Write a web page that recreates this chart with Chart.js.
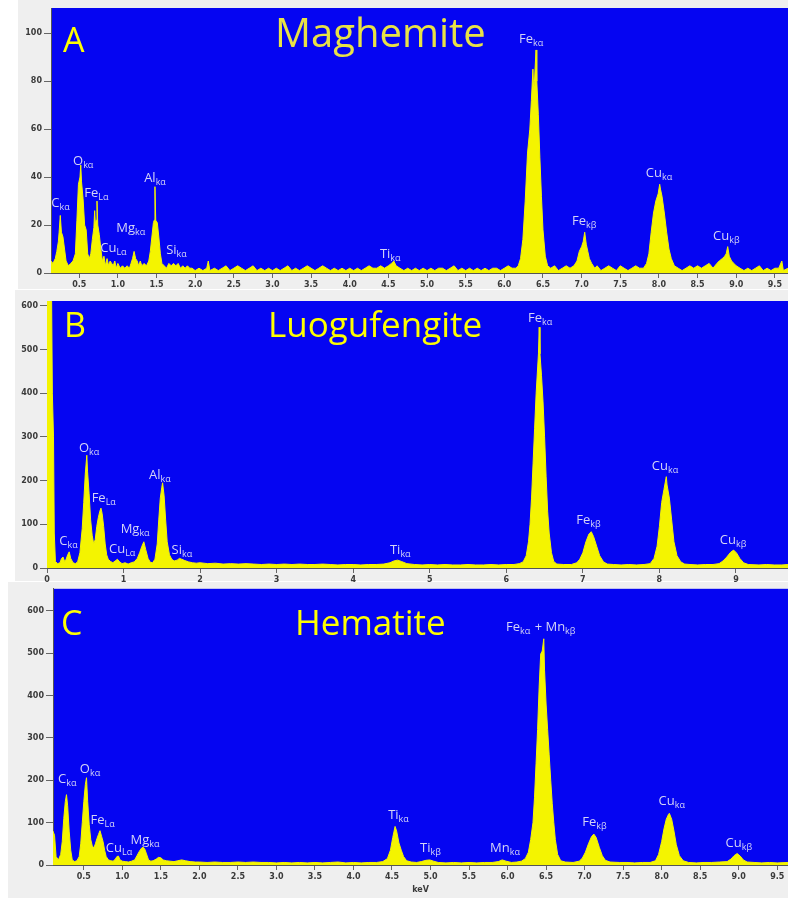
<!DOCTYPE html>
<html>
<head>
<meta charset="utf-8">
<script src="https://cdn.jsdelivr.net/npm/chart.js@4.4.1/dist/chart.umd.min.js"></script>
<style>
  body { margin: 0; background: #fff; width: 788px; height: 898px; overflow: hidden; position: relative; }
  canvas { position: absolute; left: 0; }
</style>
</head>
<body>
<canvas id="panelA" width="788" height="290" style="top:0px"></canvas>
<canvas id="panelB" width="788" height="292" style="top:290px"></canvas>
<canvas id="panelC" width="788" height="316" style="top:582px"></canvas>
<script>
// EDS spectra: [energy keV, counts]
const spectrumA = [
  [0.135,5],[0.16,4],[0.19,6],[0.21,9],[0.23,13],[0.24,17],[0.255,24],[0.27,17],[0.29,15],[0.31,10],
  [0.33,5],[0.36,3],[0.39,4],[0.42,5],[0.45,8],[0.47,22],[0.49,37],[0.51,40],[0.52,45],[0.53,38],
  [0.55,31],[0.57,20],[0.59,18],[0.61,8],[0.63,6],[0.65,8],[0.67,14],[0.69,19],[0.70,26],[0.71,20],
  [0.72,22],[0.73,30],[0.74,20],[0.76,16],[0.78,10],[0.80,5],[0.82,7],[0.84,3],[0.86,6],[0.88,3],
  [0.90,5],[0.92,4],[0.94,3],[0.96,5],[0.98,2],[1.00,4],[1.03,2],[1.06,3],[1.09,2],[1.12,3],
  [1.15,2],[1.17,4],[1.19,6],[1.21,9],[1.23,6],[1.25,5],[1.27,3],[1.29,5],[1.31,3],[1.34,4],
  [1.37,3],[1.40,5],[1.42,9],[1.44,15],[1.46,21],[1.47,22],[1.48,36],[1.49,22],[1.51,21],[1.53,15],
  [1.55,8],[1.57,4],[1.60,3],[1.63,2],[1.66,4],[1.69,3],[1.72,4],[1.75,3],[1.78,4],[1.81,2],
  [1.84,3],[1.87,2],[1.90,3],[1.93,2],[1.96,2],[2.00,1],[2.05,2],[2.10,1],[2.15,2],[2.17,5],
  [2.19,1],[2.25,2],[2.30,1],[2.35,2],[2.40,3],[2.45,1],[2.50,2],[2.55,3],[2.60,2],[2.65,1],
  [2.70,2],[2.75,3],[2.80,1],[2.85,2],[2.90,1],[2.95,2],[3.00,1],[3.05,2],[3.10,1],[3.15,2],
  [3.20,3],[3.25,1],[3.30,2],[3.35,1],[3.40,2],[3.45,3],[3.50,2],[3.55,1],[3.60,2],[3.65,3],
  [3.70,2],[3.75,1],[3.80,2],[3.85,1],[3.90,2],[3.95,1],[4.00,2],[4.05,1],[4.10,2],[4.15,1],
  [4.20,2],[4.25,3],[4.30,2],[4.35,2],[4.40,3],[4.45,2],[4.50,3],[4.54,4],[4.57,5],[4.60,3],
  [4.65,2],[4.70,1],[4.75,2],[4.80,1],[4.85,2],[4.90,1],[4.95,2],[5.00,1],[5.05,2],[5.10,1],
  [5.15,2],[5.20,2],[5.25,1],[5.30,2],[5.35,3],[5.40,1],[5.45,2],[5.50,1],[5.55,2],[5.60,1],
  [5.65,2],[5.70,1],[5.75,2],[5.80,1],[5.85,2],[5.90,2],[5.95,1],[6.00,2],[6.05,3],[6.10,2],
  [6.15,2],[6.18,3],[6.21,6],[6.24,14],[6.27,30],[6.30,50],[6.33,60],[6.35,72],[6.37,85],[6.38,76],
  [6.39,80],[6.41,93],[6.42,80],[6.44,66],[6.46,48],[6.48,32],[6.50,18],[6.53,7],[6.56,3],[6.60,2],
  [6.65,3],[6.70,1],[6.75,2],[6.80,3],[6.85,2],[6.90,3],[6.94,5],[6.97,9],[7.00,11],[7.02,13],
  [7.04,17],[7.06,12],[7.08,9],[7.10,6],[7.13,4],[7.17,2],[7.20,3],[7.25,1],[7.30,2],[7.35,3],
  [7.40,2],[7.45,1],[7.50,3],[7.55,2],[7.60,1],[7.65,2],[7.70,3],[7.75,2],[7.80,2],[7.84,4],
  [7.87,8],[7.90,17],[7.93,25],[7.96,30],[7.99,33],[8.01,37],[8.02,35],[8.04,32],[8.07,25],[8.10,17],
  [8.13,10],[8.16,6],[8.20,3],[8.25,2],[8.30,1],[8.35,2],[8.40,3],[8.45,2],[8.50,3],[8.55,2],
  [8.60,3],[8.65,4],[8.70,2],[8.75,4],[8.78,5],[8.82,6],[8.85,7],[8.87,8],[8.89,11],[8.91,7],
  [8.94,5],[8.97,4],[9.00,3],[9.05,2],[9.10,1],[9.15,2],[9.20,1],[9.25,2],[9.30,3],[9.35,1],
  [9.40,2],[9.45,1],[9.50,2],[9.55,2],[9.59,5],[9.61,1],[9.67,2]
];

const spectrumB = [
  [0,620],[0.06,620],[0.07,400],[0.085,300],[0.095,80],[0.11,15],[0.14,10],[0.17,12],[0.19,22],[0.21,25],
  [0.23,15],[0.25,20],[0.27,30],[0.29,37],[0.31,22],[0.34,12],[0.37,10],[0.40,14],[0.43,35],[0.46,90],
  [0.48,150],[0.50,215],[0.52,258],[0.53,220],[0.55,170],[0.57,110],[0.59,75],[0.61,55],[0.63,65],[0.65,95],
  [0.67,115],[0.69,130],[0.705,137],[0.72,125],[0.74,95],[0.76,55],[0.78,30],[0.80,20],[0.83,15],[0.86,12],
  [0.89,16],[0.92,20],[0.95,14],[0.98,10],[1.02,12],[1.06,9],[1.10,12],[1.14,14],[1.18,22],[1.21,35],
  [1.24,50],[1.265,60],[1.29,42],[1.32,22],[1.35,13],[1.38,12],[1.41,20],[1.44,55],[1.46,110],[1.48,160],
  [1.50,185],[1.51,195],[1.53,165],[1.55,110],[1.57,60],[1.60,30],[1.63,20],[1.66,16],[1.70,18],[1.73,22],
  [1.76,20],[1.80,17],[1.85,14],[1.90,12],[1.95,11],[2.00,12],[2.1,10],[2.2,11],[2.3,9],[2.4,10],
  [2.5,9],[2.6,10],[2.7,9],[2.8,8],[2.9,9],[3.0,8],[3.1,9],[3.2,8],[3.3,9],[3.4,8],
  [3.5,8],[3.6,9],[3.7,8],[3.8,7],[3.9,8],[4.0,8],[4.1,7],[4.2,8],[4.3,8],[4.4,9],
  [4.48,12],[4.53,16],[4.58,18],[4.63,15],[4.7,10],[4.8,8],[4.9,7],[5.0,8],[5.1,7],[5.2,8],
  [5.3,7],[5.4,7],[5.5,8],[5.6,7],[5.7,7],[5.8,8],[5.9,7],[6.0,8],[6.1,8],[6.17,10],
  [6.22,14],[6.26,28],[6.29,60],[6.31,100],[6.33,160],[6.35,240],[6.37,320],[6.39,400],[6.41,460],[6.42,490],
  [6.43,551],[6.44,490],[6.46,440],[6.48,380],[6.50,300],[6.52,210],[6.54,130],[6.56,80],[6.59,35],[6.62,15],
  [6.66,9],[6.75,8],[6.85,8],[6.92,12],[6.96,20],[7.00,35],[7.04,60],[7.08,78],[7.11,83],[7.14,72],
  [7.18,50],[7.22,28],[7.27,14],[7.32,9],[7.4,8],[7.5,7],[7.6,8],[7.7,7],[7.8,8],[7.88,10],
  [7.93,22],[7.97,50],[8.00,95],[8.03,150],[8.06,180],[8.09,209],[8.10,190],[8.13,160],[8.16,110],[8.19,60],
  [8.23,28],[8.28,14],[8.33,9],[8.4,8],[8.5,7],[8.6,8],[8.7,8],[8.78,10],[8.83,16],[8.88,25],
  [8.93,36],[8.97,41],[9.01,34],[9.05,22],[9.1,12],[9.16,8],[9.3,7],[9.4,8],[9.5,7],[9.6,7],
  [9.68,8]
];

const spectrumC = [
  [0.10,80],[0.12,70],[0.14,20],[0.17,12],[0.20,25],[0.22,55],[0.24,110],[0.26,150],[0.275,166],[0.29,140],
  [0.31,80],[0.33,35],[0.35,12],[0.38,8],[0.41,10],[0.44,20],[0.46,50],[0.48,100],[0.50,150],[0.52,190],
  [0.535,206],[0.55,150],[0.57,95],[0.59,60],[0.61,45],[0.63,40],[0.65,50],[0.67,62],[0.69,72],[0.71,81],
  [0.73,68],[0.75,55],[0.77,35],[0.79,20],[0.82,12],[0.85,10],[0.88,9],[0.91,14],[0.93,20],[0.95,21],
  [0.97,12],[1.00,9],[1.04,8],[1.08,7],[1.12,9],[1.16,12],[1.19,22],[1.22,32],[1.25,40],[1.27,42],
  [1.29,38],[1.31,28],[1.34,12],[1.37,9],[1.40,10],[1.44,14],[1.47,18],[1.50,17],[1.53,12],[1.57,10],
  [1.62,9],[1.67,8],[1.72,10],[1.77,12],[1.82,10],[1.88,8],[1.95,7],[2.0,7],[2.1,6],[2.2,7],
  [2.3,6],[2.4,6],[2.5,7],[2.6,6],[2.7,7],[2.8,6],[2.9,6],[3.0,5],[3.1,6],[3.2,5],
  [3.3,6],[3.4,5],[3.5,6],[3.6,5],[3.7,6],[3.8,7],[3.9,5],[4.0,6],[4.1,5],[4.2,6],
  [4.3,6],[4.38,8],[4.44,15],[4.48,35],[4.51,65],[4.54,91],[4.56,80],[4.59,52],[4.62,35],[4.65,20],
  [4.69,10],[4.75,7],[4.82,6],[4.88,8],[4.94,11],[4.99,12],[5.04,9],[5.1,6],[5.2,5],[5.3,6],
  [5.4,5],[5.5,6],[5.6,5],[5.7,6],[5.8,6],[5.88,8],[5.93,12],[5.98,9],[6.05,6],[6.12,7],
  [6.18,9],[6.23,15],[6.27,30],[6.30,60],[6.33,100],[6.35,160],[6.37,240],[6.39,320],[6.41,420],[6.43,498],
  [6.45,505],[6.47,534],[6.48,460],[6.50,380],[6.52,320],[6.54,260],[6.56,200],[6.58,145],[6.60,100],[6.62,60],
  [6.65,25],[6.69,10],[6.75,7],[6.85,6],[6.93,9],[6.97,16],[7.01,30],[7.05,50],[7.09,67],[7.12,73],
  [7.15,65],[7.19,42],[7.23,22],[7.27,11],[7.33,7],[7.45,6],[7.55,6],[7.65,5],[7.75,6],[7.85,6],
  [7.92,10],[7.96,25],[8.00,55],[8.03,85],[8.06,108],[8.09,120],[8.10,122],[8.13,108],[8.16,80],[8.19,48],
  [8.23,22],[8.28,10],[8.35,6],[8.45,5],[8.55,6],[8.65,6],[8.75,7],[8.85,8],[8.90,14],[8.94,22],
  [8.98,27],[9.02,21],[9.06,12],[9.11,7],[9.2,6],[9.3,5],[9.4,6],[9.5,5],[9.64,6]
];

// tick values
const xTicksHalf = [0.5,1.0,1.5,2.0,2.5,3.0,3.5,4.0,4.5,5.0,5.5,6.0,6.5,7.0,7.5,8.0,8.5,9.0,9.5];
const xTicksB = [0,1,2,3,4,5,6,7,8,9];
const yTicksA = [0,20,40,60,80,100];
const yTicksBC = [0,100,200,300,400,500,600];

// peak labels: [element, line, energy, counts(anchor), extra text, extra sub]
const peaksA = [
  ['C','kα',0.138,27.6],['O','kα',0.42,45.1],['Fe','Lα',0.565,31.8],['Cu','Lα',0.772,8.9],
  ['Mg','kα',0.979,17.2],['Al','kα',1.34,38.0],['Si','kα',1.625,8.0],['Ti','kα',4.39,6.4],
  ['Fe','kα',6.19,95.9],['Fe','kβ',6.875,20.1],['Cu','kα',7.83,40.1],['Cu','kβ',8.70,13.9]
];
const peaksB = [
  ['C','kα',0.16,52],['O','kα',0.418,266],['Fe','Lα',0.583,151],['Cu','Lα',0.81,34],
  ['Mg','kα',0.962,81],['Al','kα',1.332,204],['Si','kα',1.628,33],['Ti','kα',4.48,33],
  ['Fe','kα',6.283,564],['Fe','kβ',6.915,101],['Cu','kα',7.9,224],['Cu','kβ',8.79,56]
];
const peaksC = [
  ['C','kα',0.166,193],['O','kα',0.448,216],['Fe','Lα',0.587,97],['Cu','Lα',0.786,31],
  ['Mg','kα',1.106,50],['Ti','kα',4.45,108],['Ti','kβ',4.864,31],['Mn','kα',5.773,31],
  ['Fe','kα',5.98,552,' + Mn','kβ'],['Fe','kβ',6.97,93],['Cu','kα',7.96,142],['Cu','kβ',8.83,42]
];

const BLUE = '#0505f2';
const YELLOW = '#f4f400';
const LABEL = '#d4d4f6';

const panelPlugin = {
  id: 'panel',
  beforeDraw(chart, args, o) {
    const ctx = chart.ctx, a = chart.chartArea;
    ctx.save();
    ctx.fillStyle = '#efefef';
    ctx.fillRect(o.grayLeft, 0, chart.width - o.grayLeft, o.grayBottom);
    ctx.fillStyle = BLUE;
    ctx.fillRect(a.left, a.top, a.right - a.left, a.bottom - a.top);
    ctx.restore();
  },
  afterDatasetsDraw(chart, args, o) {
    const ctx = chart.ctx, xs = chart.scales.x, ys = chart.scales.y;
    ctx.save();
    ctx.fillStyle = LABEL;
    ctx.textBaseline = 'alphabetic';
    o.peaks.forEach(p => {
      let cx = xs.getPixelForValue(p[2]);
      const cy = ys.getPixelForValue(p[3]);
      const parts = [[p[0], p[1]]];
      if (p[4]) parts.push([p[4], p[5]]);
      parts.forEach(([main, sub]) => {
        ctx.font = '13px "Open Sans"';
        ctx.fillText(main, cx, cy);
        cx += ctx.measureText(main).width;
        ctx.font = '9px "Open Sans"';
        ctx.fillText(sub, cx, cy + 3);
        cx += ctx.measureText(sub).width + 1;
      });
    });
    // panel letter and mineral name
    ctx.fillStyle = '#ffff00';
    ctx.font = o.letterSize + 'px "Open Sans"';
    ctx.fillText(o.letter, o.letterX, o.baseline);
    ctx.fillStyle = o.titleColor;
    ctx.font = o.titleSize + 'px "Open Sans"';
    ctx.fillText(o.title, o.titleX, o.titleBaseline);
    ctx.restore();
  }
};

function makePanel(id, spectrum, cfg) {
  new Chart(document.getElementById(id), {
    type: 'line',
    data: {
      datasets: [{
        data: spectrum.map(p => ({ x: p[0], y: p[1] })),
        fill: 'origin',
        backgroundColor: YELLOW,
        borderColor: YELLOW,
        borderWidth: 1,
        pointRadius: 0,
        tension: 0
      }]
    },
    options: {
      responsive: false,
      animation: false,
      events: [],
      layout: { padding: { left: 0, right: 0, top: cfg.top, bottom: 0 } },
      plugins: {
        legend: { display: false },
        tooltip: { enabled: false },
        panel: cfg.panel
      },
      scales: {
        x: {
          type: 'linear',
          min: cfg.xmin,
          max: cfg.xmax,
          afterBuildTicks: s => { s.ticks = cfg.xticks.map(v => ({ value: v })); },
          afterFit: s => { s.height = cfg.xh; },
          ticks: {
            autoSkip: false, maxRotation: 0, padding: 2, color: '#3a3a3a',
            font: { family: 'DejaVu Sans', size: 8, weight: 'bold' },
            callback: cfg.xfmt
          },
          grid: { drawOnChartArea: false, tickLength: 5, color: '#666' },
          border: { color: '#555' },
          title: cfg.xtitle || { display: false }
        },
        y: {
          min: 0,
          max: cfg.ymax,
          afterBuildTicks: s => { s.ticks = cfg.yticks.map(v => ({ value: v })); },
          afterFit: s => { s.width = cfg.yw; },
          ticks: {
            padding: 2, color: '#3a3a3a',
            font: { family: 'DejaVu Sans', size: 8, weight: 'bold' }
          },
          grid: { drawOnChartArea: false, tickLength: 7, color: '#666' },
          border: { color: '#555' }
        }
      }
    },
    plugins: [panelPlugin]
  });
}

makePanel('panelA', spectrumA, {
  top: 8, xmin: 0.135, xmax: 9.67, ymax: 110.5, xh: 17, yw: 51,
  xticks: xTicksHalf, yticks: yTicksA, xfmt: v => v.toFixed(1),
  panel: { grayLeft: 18, grayBottom: 289, peaks: peaksA,
    letter: 'A', letterX: 63, baseline: 52, letterSize: 34,
    title: 'Maghemite', titleX: 275, titleBaseline: 47, titleSize: 40, titleColor: '#e8e246' }
});

makePanel('panelB', spectrumB, {
  top: 11, xmin: 0, xmax: 9.68, ymax: 611, xh: 14, yw: 47,
  xticks: xTicksB, yticks: yTicksBC, xfmt: v => String(v),
  panel: { grayLeft: 15, grayBottom: 291, peaks: peaksB,
    letter: 'B', letterX: 64, baseline: 47, letterSize: 34,
    title: 'Luogufengite', titleX: 268, titleBaseline: 47, titleSize: 35, titleColor: '#ffff00' }
});

makePanel('panelC', spectrumC, {
  top: 1, xmin: 0.1, xmax: 9.64, ymax: 652, xh: 33, yw: 53,
  xticks: xTicksHalf, yticks: yTicksBC, xfmt: v => v.toFixed(1),
  xtitle: { display: true, text: 'keV', color: '#3a3a3a', padding: { top: 0, bottom: 3 },
            font: { family: 'DejaVu Sans', size: 8, weight: 'bold' } },
  panel: { grayLeft: 8, grayBottom: 316, peaks: peaksC,
    letter: 'C', letterX: 61, baseline: 53, letterSize: 34,
    title: 'Hematite', titleX: 295, titleBaseline: 53, titleSize: 35, titleColor: '#ffff00' }
});
</script>
</body>
</html>
